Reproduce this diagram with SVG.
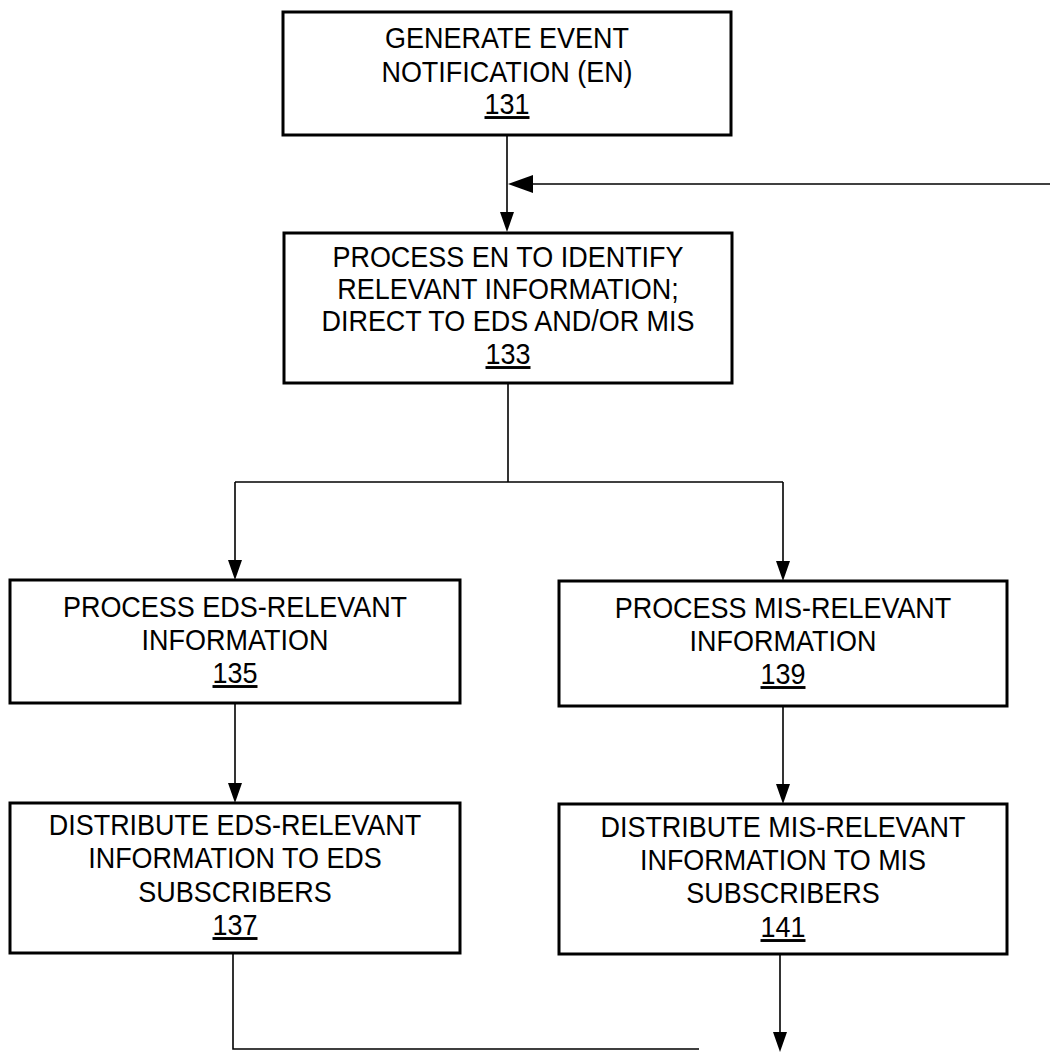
<svg xmlns="http://www.w3.org/2000/svg" width="1050" height="1052" viewBox="0 0 1050 1052">
<style>
.box{fill:#fff;stroke:#000;stroke-width:3}
.ln{fill:none;stroke:#000;stroke-width:1.6}
.ah{fill:#000;stroke:none}
text{font-family:"Liberation Sans",Arial,sans-serif;font-size:29px;fill:#000;text-anchor:middle}
.num{text-decoration:underline}
</style>
<rect width="1050" height="1052" fill="#fff"/>
<g id="connectors">
<line class="ln" x1="507" y1="135" x2="507" y2="214"/>
<polygon class="ah" points="500,212 514,212 507,232"/>
<line class="ln" x1="530" y1="184" x2="1050" y2="184"/>
<polygon class="ah" points="508,184 533,175 533,193"/>
<polyline class="ln" points="508,383 508,482"/>
<polyline class="ln" points="235,482 783,482"/>
<line class="ln" x1="235" y1="482" x2="235" y2="562"/>
<polygon class="ah" points="228,560 242,560 235,580"/>
<line class="ln" x1="783" y1="482" x2="783" y2="563"/>
<polygon class="ah" points="776,561 790,561 783,581"/>
<line class="ln" x1="235" y1="703" x2="235" y2="785"/>
<polygon class="ah" points="228,783 242,783 235,803"/>
<line class="ln" x1="783" y1="706" x2="783" y2="786"/>
<polygon class="ah" points="776,784 790,784 783,804"/>
<polyline class="ln" points="233,953 233,1049 699,1049"/>
<line class="ln" x1="780" y1="954" x2="780" y2="1034"/>
<polygon class="ah" points="773,1032 787,1032 780,1052"/>
</g>
<g id="n131">
<rect class="box" x="283" y="12" width="448" height="123"/>
<g transform="translate(507,0) scale(0.93,1)">
<text x="0" y="48">GENERATE EVENT</text>
<text x="0" y="82">NOTIFICATION (EN)</text>
<text class="num" x="0" y="114">131</text>
</g>
</g>
<g id="n133">
<rect class="box" x="284" y="233" width="448" height="150"/>
<g transform="translate(508,0) scale(0.93,1)">
<text x="0" y="267">PROCESS EN TO IDENTIFY</text>
<text x="0" y="299">RELEVANT INFORMATION;</text>
<text x="0" y="331">DIRECT TO EDS AND/OR MIS</text>
<text class="num" x="0" y="364">133</text>
</g>
</g>
<g id="n135">
<rect class="box" x="10" y="580" width="450" height="123"/>
<g transform="translate(235,0) scale(0.93,1)">
<text x="0" y="617">PROCESS EDS-RELEVANT</text>
<text x="0" y="650">INFORMATION</text>
<text class="num" x="0" y="683">135</text>
</g>
</g>
<g id="n139">
<rect class="box" x="559" y="581" width="448" height="125"/>
<g transform="translate(783,0) scale(0.93,1)">
<text x="0" y="618">PROCESS MIS-RELEVANT</text>
<text x="0" y="651">INFORMATION</text>
<text class="num" x="0" y="684">139</text>
</g>
</g>
<g id="n137">
<rect class="box" x="10" y="803" width="450" height="150"/>
<g transform="translate(235,0) scale(0.93,1)">
<text x="0" y="835">DISTRIBUTE EDS-RELEVANT</text>
<text x="0" y="868">INFORMATION TO EDS</text>
<text x="0" y="902">SUBSCRIBERS</text>
<text class="num" x="0" y="935">137</text>
</g>
</g>
<g id="n141">
<rect class="box" x="559" y="804" width="448" height="150"/>
<g transform="translate(783,0) scale(0.93,1)">
<text x="0" y="837">DISTRIBUTE MIS-RELEVANT</text>
<text x="0" y="870">INFORMATION TO MIS</text>
<text x="0" y="903">SUBSCRIBERS</text>
<text class="num" x="0" y="937">141</text>
</g>
</g>
</svg>
